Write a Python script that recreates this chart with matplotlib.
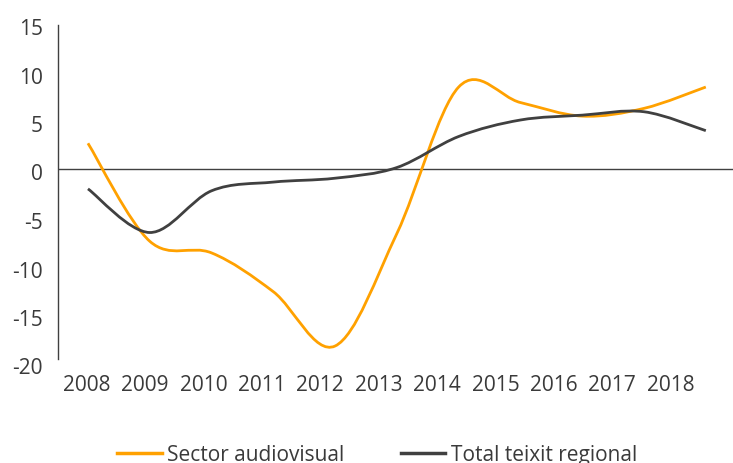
import numpy as np
import matplotlib
matplotlib.use("Agg")
import matplotlib.pyplot as plt
import matplotlib.transforms as mtransforms
from matplotlib.path import Path
from matplotlib.patches import PathPatch
from matplotlib.lines import Line2D

years = ["2008", "2009", "2010", "2011", "2012", "2013",
         "2014", "2015", "2016", "2017", "2018"]
sector_audiovisual = [2.6, -7.5, -8.7, -12.7, -18.3, -6.7, 8.4, 6.8, 5.4, 6.2, 8.4]
teixit_regional = [-2.1, -6.6, -2.3, -1.4, -1.0, 0.1, 3.3, 5.0, 5.5, 5.85, 3.9]

orange = "#FFA100"
dark = "#404040"
txt = "#3a3a3a"

plt.rcParams['font.family'] = ['Open Sans', 'DejaVu Sans']


def smooth_path(xs, ys, t=1/6):
    # excel-style smoothed line: cubic bezier through each point
    pts = np.column_stack([xs, ys]).astype(float)
    n = len(pts)
    verts = [pts[0]]
    codes = [Path.MOVETO]
    for i in range(n - 1):
        p0 = pts[max(i - 1, 0)]
        p1 = pts[i]
        p2 = pts[i + 1]
        p3 = pts[min(i + 2, n - 1)]
        c1 = p1 + (p2 - p0) * t
        c2 = p2 - (p3 - p1) * t
        verts += [c1, c2, p2]
        codes += [Path.CURVE4] * 3
    return Path(verts, codes)


fig = plt.figure(figsize=(7.33, 4.64), dpi=100)
ax = fig.add_axes([58 / 733, 100.5 / 464, 675 / 733, 339.5 / 464])

x = np.arange(len(years))
for vals, col in [(sector_audiovisual, orange), (teixit_regional, dark)]:
    ax.add_patch(PathPatch(smooth_path(x, vals), facecolor='none',
                           edgecolor=col, lw=2.0, capstyle='butt', zorder=3))

ax.axhline(0, color=dark, lw=1.0, zorder=2)

ax.set_xlim(-0.485, 10.44)
ax.set_ylim(-20, 15)
ax.set_yticks(range(-20, 16, 5))
ax.set_yticklabels([str(v) for v in range(-20, 16, 5)])

# year labels sit a little tighter than the data points in the original
lbl_pos = np.arange(len(years)) * 0.945 - 0.02
ax.set_xticks(lbl_pos)
ax.set_xticklabels(years)

ax.tick_params(axis='both', length=0, labelsize=15, colors=txt)
ax.tick_params(axis='y', pad=11)
ax.tick_params(axis='x', pad=8)

# y labels sit a few pixels below their gridline in the original
shift = mtransforms.ScaledTranslation(0, -3 / 100, fig.dpi_scale_trans)
for lab in ax.get_yticklabels():
    lab.set_transform(lab.get_transform() + shift)

for s in ['top', 'right', 'bottom']:
    ax.spines[s].set_visible(False)
ax.spines['left'].set_color(dark)
ax.spines['left'].set_linewidth(1.0)
ax.spines['left'].set_bounds(-19.6, 14.8)

handles = [Line2D([], [], color=orange, lw=2.5),
           Line2D([], [], color=dark, lw=2.5)]
fig.legend(handles, ["Sector audiovisual", "Total teixit regional"],
           loc='center', bbox_to_anchor=(377 / 733, 1 - 456 / 464),
           ncol=2, frameon=False, fontsize=15, handlelength=2.15,
           handletextpad=0.25, columnspacing=2.7, labelcolor=txt,
           borderaxespad=0)

fig.savefig("out.png", dpi=100)
